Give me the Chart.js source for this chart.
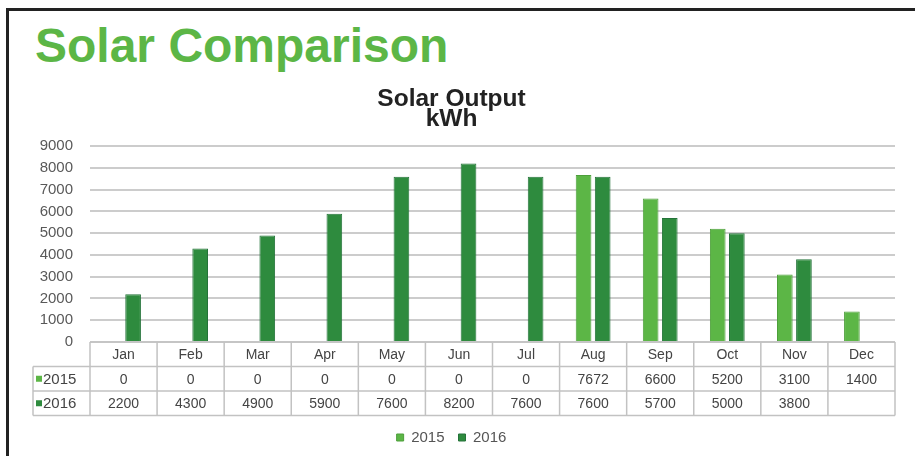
<!DOCTYPE html>
<html>
<head>
<meta charset="utf-8">
<script src="https://cdn.jsdelivr.net/npm/chart.js@4"></script>
<style>
body { margin: 0; background: #fff; }
#frame { position: absolute; left: 6px; top: 8px; width: 920px; height: 460px; border-top: 3px solid #222; border-left: 3px solid #222; }
#heading { position: absolute; left: 35px; top: 22px; font: bold 48px "Liberation Sans", Arial, sans-serif; line-height: 48px; color: #5cb646; }
#wrap { position: absolute; left: 0; top: 0; width: 915px; height: 456px; }
</style>
</head>
<body>
<div id="frame"></div>
<div id="heading">Solar Comparison</div>
<div id="wrap"><canvas id="solar"></canvas></div>
<script>
var months = ['Jan', 'Feb', 'Mar', 'Apr', 'May', 'Jun', 'Jul', 'Aug', 'Sep', 'Oct', 'Nov', 'Dec'];
var output2015 = [0, 0, 0, 0, 0, 0, 0, 7672, 6600, 5200, 3100, 1400];
var output2016 = [2200, 4300, 4900, 5900, 7600, 8200, 7600, 7600, 5700, 5000, 3800, null];
var seriesNames = ['2015', '2016'];
var colors2015 = '#5cb646';
var colors2016 = '#2e8b3e';

// data table under the x axis, like the spreadsheet original
var dataTable = {
  id: 'dataTable',
  afterDraw: function(chart) {
    var ctx = chart.ctx;
    var area = chart.chartArea;
    var xs = chart.scales.x;
    var colW = (area.right - area.left) / months.length;
    var top = area.bottom;
    var rowH = 24.5;
    var labelLeft = 33;
    var rows = [output2015, output2016];
    var swatches = [colors2015, colors2016];

    ctx.save();
    ctx.strokeStyle = '#c2c2c2';
    ctx.lineWidth = 1.5;
    ctx.beginPath();
    ctx.moveTo(area.left, top);
    ctx.lineTo(area.right, top);
    for (var r = 1; r <= 3; r++) {
      ctx.moveTo(labelLeft, top + r * rowH);
      ctx.lineTo(area.right, top + r * rowH);
    }
    ctx.moveTo(labelLeft, top + rowH);
    ctx.lineTo(labelLeft, top + 3 * rowH);
    for (var i = 0; i <= months.length; i++) {
      var bx = area.left + i * colW;
      ctx.moveTo(bx, top);
      ctx.lineTo(bx, top + 3 * rowH);
    }
    ctx.stroke();

    ctx.font = '14px "Liberation Sans", Arial, sans-serif';
    ctx.fillStyle = '#444';
    ctx.textAlign = 'center';
    ctx.textBaseline = 'middle';
    months.forEach(function(m, i) {
      var cx = xs.getPixelForValue(i);
      ctx.fillText(m, cx, top + rowH / 2 + 1);
      rows.forEach(function(vals, r) {
        var v = vals[i];
        ctx.fillText(v === null ? '' : String(v), cx, top + (r + 1.5) * rowH + 1);
      });
    });

    ctx.textAlign = 'left';
    ctx.font = '15px "Liberation Sans", Arial, sans-serif';
    seriesNames.forEach(function(name, r) {
      var cy = top + (r + 1.5) * rowH;
      ctx.fillStyle = swatches[r];
      ctx.fillRect(labelLeft + 3, cy - 3, 6, 6);
      ctx.fillStyle = '#444';
      ctx.fillText(name, labelLeft + 10, cy + 1);
    });
    ctx.restore();
  }
};

var ctx_solar = document.getElementById('solar').getContext('2d');
var solarGraph = new Chart(ctx_solar, {
  type: 'bar',
  data: {
    labels: months,
    datasets: [{
      label: seriesNames[0],
      data: output2015,
      backgroundColor: colors2015,
      borderColor: '#4d9f3b',
      borderWidth: 1,
      barPercentage: 0.82,
      categoryPercentage: 0.57
    }, {
      label: seriesNames[1],
      data: output2016,
      backgroundColor: colors2016,
      borderColor: '#24733a',
      borderWidth: 1,
      barPercentage: 0.82,
      categoryPercentage: 0.57
    }]
  },
  options: {
    responsive: true,
    maintainAspectRatio: false,
    animation: false,
    layout: { padding: { left: 8, right: 20, top: 8, bottom: 1 } },
    plugins: {
      title: {
        display: true,
        text: ['Solar Output', 'kWh'],
        color: '#222',
        font: { family: '"Liberation Sans", Arial, sans-serif', size: 24.5, weight: 'bold', lineHeight: 0.82 },
        padding: { top: 81, bottom: 17 }
      },
      legend: {
        position: 'bottom',
        labels: {
          color: '#555',
          boxWidth: 7,
          boxHeight: 7,
          padding: 14,
          font: { family: '"Liberation Sans", Arial, sans-serif', size: 15 }
        }
      },
      tooltip: { enabled: false }
    },
    scales: {
      x: {
        ticks: { display: false },
        grid: { display: false, drawTicks: false },
        border: { display: false },
        afterFit: function(scale) { scale.height = 74; }
      },
      y: {
        min: 0,
        max: 9000,
        ticks: {
          stepSize: 1000,
          padding: 17,
          color: '#595959',
          font: { family: '"Liberation Sans", Arial, sans-serif', size: 15 },
          callback: function(v) { return String(v); }
        },
        grid: { color: '#cccccc', lineWidth: 2, drawTicks: false },
        border: { display: false },
        afterFit: function(scale) { scale.width = 82; }
      }
    }
  },
  plugins: [dataTable]
});
</script>
</body>
</html>
